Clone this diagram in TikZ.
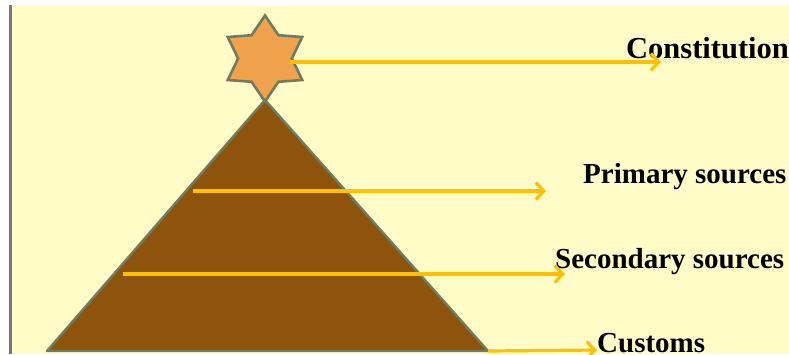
\documentclass[tikz,border=0pt]{standalone}
\usepackage{fontspec}
\setmainfont{Liberation Serif}
\usetikzlibrary{shapes.geometric, arrows.meta, positioning}
\definecolor{pyrBack}{RGB}{255,252,200}
\definecolor{pyrBar}{RGB}{120,120,120}
\definecolor{pyrStar}{RGB}{240,162,76}
\definecolor{pyrBrown}{RGB}{143,84,12}
\definecolor{pyrEdge}{RGB}{112,124,96}
\definecolor{pyrGold}{RGB}{255,192,0}

\begin{document}
\begin{tikzpicture}[x=1pt, y=-1pt,
      level/.style={font=\fontsize{29}{29}\selectfont\bfseries, text=black, anchor=base west, inner sep=0pt},
      pointer/.style={draw=pyrGold, line width=3.2pt, -{Straight Barb[length=8pt, width=17pt]}},
      crownstar/.style={star, star points=6, star point ratio=1.6, minimum size=86pt, inner sep=0pt,
      fill=pyrStar, draw=pyrEdge, line width=2.6pt}
    ]
    \useasboundingbox (0,0) rectangle (789,354);
    \fill[white] (0,0) rectangle (789,354);
    \fill[pyrBack] (12,5) rectangle (789,354);
    \fill[pyrBar] (9,5) rectangle (12,354);

    % pyramid
    \coordinate (apex) at (265,100);
    \coordinate (baseL) at (47,351);
    \coordinate (baseR) at (488,351);
    \draw[fill=pyrBrown, draw=pyrEdge, line width=2.4pt, line join=round] (apex) -- (baseR) -- (baseL) -- cycle;
    \node[crownstar] (crown) at (265,58.5) {};

    % labels
    \node[level, font=\fontsize{30.5}{30.5}\selectfont\bfseries] (constitution) at (626,58) {Constitution};
    \node[level] (primary) at (583,183) {Primary sources};
    \node[level] (secondary) at (555,268) {Secondary sources};
    \node[level] (customs) at (597,352) {Customs};

    % arrows
    \coordinate (constStart) at (290,62);
    \coordinate (constEnd) at (661,62);
    \coordinate (primStart) at (193,191);
    \coordinate (primEnd) at (546,191);
    \coordinate (secStart) at (123,274);
    \coordinate (secEnd) at (565,274);
    \coordinate (custEnd) at (597,350);
    \draw[pointer] (constStart) -- (constEnd);
    \draw[pointer] (primStart) -- (primEnd);
    \draw[pointer] (secStart) -- (secEnd);
    \draw[pointer] (baseR) -- (custEnd);
  \end{tikzpicture}
\end{document}
